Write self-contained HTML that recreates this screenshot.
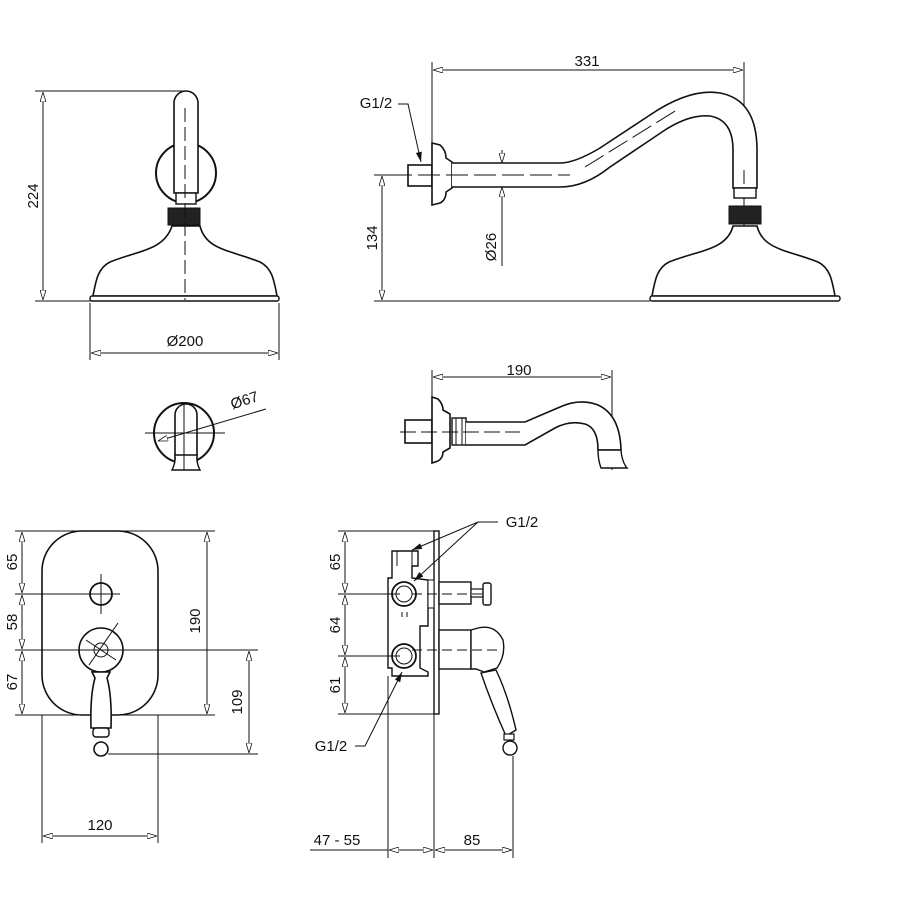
<!DOCTYPE html>
<html><head><style>
html,body{margin:0;padding:0;background:#fff}
svg{display:block}
text{font-family:"Liberation Sans",sans-serif;font-size:15px;fill:#111}
</style></head><body>
<svg width="916" height="916" viewBox="0 0 916 916" xmlns="http://www.w3.org/2000/svg">
<defs>
<marker id="a" viewBox="0 0 10 6" refX="10" refY="3" markerWidth="10" markerHeight="6" orient="auto-start-reverse" markerUnits="userSpaceOnUse"><path d="M0,0 L10,3 L0,6 Z" fill="#fff" stroke="#111" stroke-width="0.8"/></marker>
<marker id="f" viewBox="0 0 10 6" refX="10" refY="3" markerWidth="10" markerHeight="6" orient="auto" markerUnits="userSpaceOnUse"><path d="M0,0 L10,3 L0,6 Z" fill="#111"/></marker>
</defs>
<g fill="none" stroke="#111" stroke-width="1">
<!-- ===== Top-left shower front ===== -->
<line x1="35" y1="91" x2="186" y2="91"/>
<line x1="35" y1="301" x2="92" y2="301"/>
<line x1="43" y1="92" x2="43" y2="300" marker-start="url(#a)" marker-end="url(#a)"/>
<circle cx="186" cy="173" r="30" stroke-width="2"/>
<path d="M174,193 V103 a12,12 0 0 1 24,0 V193 Z" fill="#fff" stroke-width="1.6"/>
<rect x="176" y="193" width="20" height="11" fill="#fff" stroke-width="1.4"/>
<rect x="168" y="208" width="32" height="17" fill="#222"/>
<path d="M172,226 H200 C206,250 230,250 260,262 C272,268 274,280 277,296 H93 C96,280 98,268 110,262 C140,250 164,250 172,226 Z" fill="#fff" stroke-width="1.6"/>
<rect x="90" y="296" width="189" height="5" rx="2" fill="#fff" stroke-width="1.4"/>
<line x1="185" y1="108" x2="185" y2="300" stroke-dasharray="14,5"/>
<line x1="90" y1="303" x2="90" y2="360"/>
<line x1="279" y1="303" x2="279" y2="360"/>
<line x1="91" y1="353" x2="278" y2="353" marker-start="url(#a)" marker-end="url(#a)"/>
<!-- small round view -->
<circle cx="184" cy="433" r="30" stroke-width="2"/>
<path d="M175,462 V415 a11,11 0 0 1 22,0 V462" fill="#fff" stroke-width="1.6"/>
<path d="M172,470 Q176,462 175,455 H197 Q196,462 200,470 Z" fill="#fff" stroke-width="1.4"/>
<line x1="145" y1="433" x2="225" y2="433"/>
<line x1="184" y1="405" x2="184" y2="470"/>
<line x1="266" y1="409" x2="158" y2="441" marker-end="url(#a)"/>
<!-- ===== Top-right shower side ===== -->
<line x1="432" y1="62" x2="432" y2="143"/>
<line x1="744" y1="62" x2="744" y2="300"/>
<line x1="433" y1="70" x2="743" y2="70" marker-start="url(#a)" marker-end="url(#a)"/>
<rect x="408" y="165" width="24" height="21" fill="#fff" stroke-width="1.6"/>
<path d="M432,143 L440,145 Q446,150 446,158 L452,162 V188 L446,192 Q446,200 440,203 L432,205 Z" fill="#fff" stroke-width="1.6"/>
<path d="M452,163 H560 Q575,163 600,148 L650,115 Q690,88 720,93 Q757,100 757,150 V188 H733 V150 Q733,120 710,116 Q690,114 665,130 L610,167 Q585,187 560,187 H452" fill="#fff" stroke-width="1.6"/>
<line x1="390" y1="175" x2="570" y2="175" stroke-dasharray="22,6"/>
<line x1="585" y1="167" x2="680" y2="108" stroke-dasharray="22,6"/>
<line x1="744" y1="170" x2="744" y2="300" stroke-dasharray="14,5"/>
<rect x="734" y="188" width="22" height="10" fill="#fff" stroke-width="1.4"/>
<rect x="729" y="206" width="32" height="18" fill="#222"/>
<path d="M733,226 H757 C763,250 788,250 818,262 C830,268 832,280 835,296 H652 C655,280 657,268 669,262 C699,250 727,250 733,226 Z" fill="#fff" stroke-width="1.6"/>
<rect x="650" y="296" width="190" height="5" rx="2" fill="#fff" stroke-width="1.4"/>
<line x1="374" y1="175" x2="408" y2="175"/>
<line x1="374" y1="301" x2="650" y2="301"/>
<line x1="382" y1="176" x2="382" y2="300" marker-start="url(#a)" marker-end="url(#a)"/>
<line x1="502" y1="150" x2="502" y2="163" marker-end="url(#a)"/>
<line x1="502" y1="266" x2="502" y2="187" marker-end="url(#a)"/>
<polyline points="398,104 408,104 421,162" marker-end="url(#f)"/>
<!-- spout -->
<line x1="432" y1="370" x2="432" y2="397"/>
<line x1="612" y1="370" x2="612" y2="470"/>
<line x1="433" y1="377" x2="611" y2="377" marker-start="url(#a)" marker-end="url(#a)"/>
<rect x="405" y="420" width="27" height="23" fill="#fff" stroke-width="1.6"/>
<path d="M432,397 L438,399 Q443,404 443,410 L450,414 V448 L443,452 Q443,458 438,461 L432,463 Z" fill="#fff" stroke-width="1.6"/>
<rect x="452" y="418" width="14" height="27" fill="#fff" stroke-width="1.4"/>
<line x1="456" y1="418" x2="456" y2="445"/><line x1="462" y1="418" x2="462" y2="445"/>
<path d="M466,422 H525 L560,407 Q580,398 598,405 Q620,415 621,450 H598 Q598,428 585,424 Q570,420 555,428 L525,445 H466" fill="#fff" stroke-width="1.6"/>
<path d="M598,450 H621 Q622,462 627,468 H601 Q598,460 598,450 Z" fill="#fff" stroke-width="1.4"/>
<line x1="400" y1="432" x2="520" y2="432" stroke-dasharray="16,5"/>
<!-- ===== Bottom-left mixer front ===== -->
<rect x="42" y="531" width="116" height="184" rx="40" stroke-width="1.6"/>
<line x1="15" y1="531" x2="215" y2="531"/>
<line x1="15" y1="594" x2="120" y2="594"/>
<line x1="15" y1="650" x2="258" y2="650"/>
<line x1="15" y1="715" x2="215" y2="715"/>
<line x1="22" y1="532" x2="22" y2="593" marker-start="url(#a)" marker-end="url(#a)"/>
<line x1="22" y1="595" x2="22" y2="649" marker-start="url(#a)" marker-end="url(#a)"/>
<line x1="22" y1="651" x2="22" y2="714" marker-start="url(#a)" marker-end="url(#a)"/>
<line x1="207" y1="532" x2="207" y2="714" marker-start="url(#a)" marker-end="url(#a)"/>
<circle cx="101" cy="594" r="11" stroke-width="1.8"/>
<line x1="101" y1="574" x2="101" y2="614"/>
<circle cx="101" cy="650" r="22" stroke-width="1.6"/>
<circle cx="101" cy="650" r="7"/>
<line x1="86" y1="640" x2="116" y2="660"/>
<line x1="89" y1="665" x2="118" y2="623"/>
<path d="M92,672 L95,678 Q90,695 91,728 H111 Q112,695 107,678 L110,672 Z" fill="#fff" stroke-width="1.6"/>
<rect x="93" y="728" width="16" height="9" rx="3" fill="#fff" stroke-width="1.4"/>
<circle cx="101" cy="749" r="7" fill="#fff" stroke-width="1.6"/>
<line x1="108" y1="754" x2="258" y2="754"/>
<line x1="249" y1="651" x2="249" y2="753" marker-start="url(#a)" marker-end="url(#a)"/>
<line x1="42" y1="715" x2="42" y2="843"/>
<line x1="158" y1="715" x2="158" y2="843"/>
<line x1="43" y1="836" x2="157" y2="836" marker-start="url(#a)" marker-end="url(#a)"/>
<!-- ===== Bottom-right mixer side ===== -->
<rect x="434" y="531" width="5" height="183" fill="#fff" stroke-width="1.4"/>
<path d="M392,551 H418 V566 H412 V578 L428,580 V626 L420,626 V668 L428,672 V676 L412,676 H392 V668 H388 V578 H392 Z" fill="#fff" stroke-width="1.4"/>
<line x1="397" y1="551" x2="397" y2="566"/><line x1="412" y1="551" x2="412" y2="566"/>
<rect x="428" y="580" width="6" height="28" fill="#fff"/>
<circle cx="404" cy="594" r="12" fill="#fff" stroke-width="1.8"/><circle cx="404" cy="594" r="8"/>
<circle cx="404" cy="656" r="12" fill="#fff" stroke-width="1.8"/><circle cx="404" cy="656" r="8"/>
<line x1="402" y1="612" x2="402" y2="617"/><line x1="407" y1="612" x2="407" y2="617"/>
<rect x="439" y="582" width="32" height="22" fill="#fff" stroke-width="1.4"/>
<rect x="471" y="589" width="12" height="8" fill="#fff" stroke-width="1.2"/>
<rect x="483" y="583" width="8" height="22" rx="2" fill="#fff" stroke-width="1.4"/>
<rect x="439" y="630" width="32" height="39" fill="#fff" stroke-width="1.4"/>
<path d="M471,630 L478,628 Q495,624 503,640 Q506,655 497,668 L484,672 L476,669 L471,669 Z" fill="#fff" stroke-width="1.4"/>
<path d="M481,673 L496,670 Q508,695 516,730 L506,736 Q492,705 481,673 Z" fill="#fff" stroke-width="1.4"/>
<rect x="504" y="734" width="10" height="6" fill="#fff" stroke-width="1.2"/>
<circle cx="510" cy="748" r="7" fill="#fff" stroke-width="1.4"/>
<line x1="412" y1="594" x2="482" y2="594" stroke-dasharray="10,5"/>
<line x1="412" y1="650" x2="500" y2="650" stroke-dasharray="10,5"/>
<line x1="338" y1="531" x2="434" y2="531"/>
<line x1="338" y1="594" x2="400" y2="594"/>
<line x1="338" y1="656" x2="400" y2="656"/>
<line x1="338" y1="714" x2="434" y2="714"/>
<line x1="345" y1="532" x2="345" y2="593" marker-start="url(#a)" marker-end="url(#a)"/>
<line x1="345" y1="595" x2="345" y2="655" marker-start="url(#a)" marker-end="url(#a)"/>
<line x1="345" y1="657" x2="345" y2="713" marker-start="url(#a)" marker-end="url(#a)"/>
<polyline points="498,522 478,522 412,550" marker-end="url(#f)"/>
<line x1="478" y1="522" x2="414" y2="581" marker-end="url(#f)"/>
<polyline points="355,746 365,746 402,672" marker-end="url(#f)"/>
<line x1="388" y1="676" x2="388" y2="858"/>
<line x1="434" y1="714" x2="434" y2="858"/>
<line x1="513" y1="756" x2="513" y2="858"/>
<line x1="310" y1="850" x2="388" y2="850"/>
<line x1="389" y1="850" x2="433" y2="850" marker-start="url(#a)" marker-end="url(#a)"/>
<line x1="435" y1="850" x2="512" y2="850" marker-start="url(#a)" marker-end="url(#a)"/>
</g>
<!-- labels -->
<text x="38" y="196" transform="rotate(-90 38 196)" text-anchor="middle">224</text>
<text x="185" y="346" text-anchor="middle">Ø200</text>
<text x="246" y="405" transform="rotate(-18 246 405)" text-anchor="middle">Ø67</text>
<text x="587" y="66" text-anchor="middle">331</text>
<text x="376" y="108" text-anchor="middle">G1/2</text>
<text x="377" y="238" transform="rotate(-90 377 238)" text-anchor="middle">134</text>
<text x="496" y="247" transform="rotate(-90 496 247)" text-anchor="middle">Ø26</text>
<text x="519" y="375" text-anchor="middle">190</text>
<text x="17" y="562" transform="rotate(-90 17 562)" text-anchor="middle">65</text>
<text x="17" y="622" transform="rotate(-90 17 622)" text-anchor="middle">58</text>
<text x="17" y="682" transform="rotate(-90 17 682)" text-anchor="middle">67</text>
<text x="200" y="621" transform="rotate(-90 200 621)" text-anchor="middle">190</text>
<text x="242" y="702" transform="rotate(-90 242 702)" text-anchor="middle">109</text>
<text x="100" y="830" text-anchor="middle">120</text>
<text x="340" y="562" transform="rotate(-90 340 562)" text-anchor="middle">65</text>
<text x="340" y="625" transform="rotate(-90 340 625)" text-anchor="middle">64</text>
<text x="340" y="685" transform="rotate(-90 340 685)" text-anchor="middle">61</text>
<text x="522" y="527" text-anchor="middle">G1/2</text>
<text x="331" y="751" text-anchor="middle">G1/2</text>
<text x="337" y="845" text-anchor="middle">47 - 55</text>
<text x="472" y="845" text-anchor="middle">85</text>
</svg>
</body></html>
